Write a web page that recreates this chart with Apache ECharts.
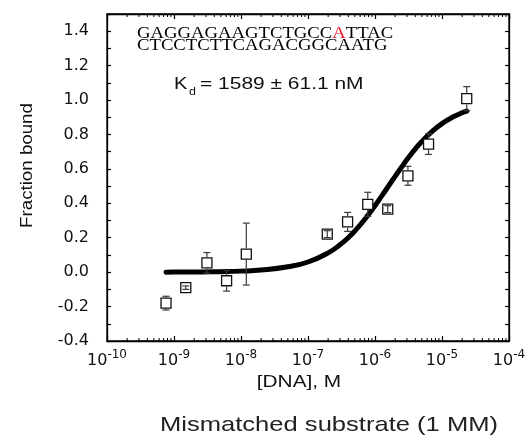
<!DOCTYPE html>
<html><head><meta charset="utf-8">
<script src="https://cdn.jsdelivr.net/npm/echarts@6/dist/echarts.min.js"></script>
<style>html,body{margin:0;padding:0;background:#fff}#c{width:529px;height:447px}</style>
</head><body><div id="c"></div>
<script>
// Measured data (concentration in M, fraction bound, error)
const concM = [7.6e-10, 1.5e-9, 3.1e-9, 6.1e-9, 1.2e-8, 1.94e-7, 3.9e-7, 7.8e-7, 1.55e-6, 3.1e-6, 6.3e-6, 2.34e-5];
const fractionBound = [-0.18, -0.09, 0.054, -0.05, 0.105, 0.221, 0.292, 0.394, 0.366, 0.56, 0.744, 1.008];
const errorBar = [0.04, 0.01, 0.06, 0.06, 0.18, 0.02, 0.055, 0.07, 0.02, 0.055, 0.06, 0.07];
// Fit curve
const fitConcM = [7.6e-10, 1e-9, 2e-9, 5e-9, 1e-8, 2e-8, 5e-8, 1e-7, 2e-7, 3e-7, 4e-7, 5e-7, 7e-7, 1e-6, 1.3e-6, 1.6e-6, 2e-6, 2.5e-6, 3e-6, 4e-6, 5e-6, 7e-6, 1e-5, 1.5e-5, 2e-5, 2.34e-5];
const fitFraction = [0.000, 0.001, 0.001, 0.003, 0.006, 0.012, 0.031, 0.059, 0.112, 0.159, 0.201, 0.239, 0.306, 0.386, 0.450, 0.502, 0.557, 0.611, 0.654, 0.716, 0.759, 0.815, 0.863, 0.904, 0.926, 0.936];
// Tick labels
const xTickExponents = ['-10', '-9', '-8', '-7', '-6', '-5', '-4'];
const yTickLabels = ['-0.4', '-0.2', '0.0', '0.2', '0.4', '0.6', '0.8', '1.0', '1.2', '1.4'];
const minorMultipliers = [2, 3, 4, 5, 6, 7, 8, 9];
const decadeStarts = [1e-10, 1e-9, 1e-8, 1e-7, 1e-6, 1e-5];

const Y_MIN = -0.4, Y_MAX = 1.5;
const tickFont = 'DejaVu Sans';

const minorData = [];
decadeStarts.forEach(d => minorMultipliers.forEach(m => minorData.push([m * d, Y_MIN])));

const chart = echarts.init(document.getElementById('c'), null, {renderer: 'canvas'});
const axisLineStyle = {color: '#000', width: 1.3};
chart.setOption({
  animation: false,
  backgroundColor: '#fff',
  grid: {left: 107, right: 20, top: 14, bottom: 106, containLabel: false,
         show: true, borderColor: '#000', borderWidth: 1.3, backgroundColor: 'transparent'},
  xAxis: [{
    type: 'log', logBase: 10, min: 1e-10, max: 1e-4, interval: 1,
    axisLine: {show: true, onZero: false, lineStyle: axisLineStyle},
    axisTick: {show: true, inside: true, length: 5, lineStyle: {color: '#000', width: 1.2}},
    splitLine: {show: false},
    axisLabel: {
      margin: 8,
      formatter: function (v) {
        const e = Math.round(Math.log10(v));
        const lab = xTickExponents[e + 10];
        return '{b|10}{s|' + lab + '}';
      },
      rich: {
        b: {fontFamily: tickFont, fontSize: 16, color: '#111', lineHeight: 20, verticalAlign: 'bottom'},
        s: {fontFamily: tickFont, fontSize: 12, color: '#111', lineHeight: 12, verticalAlign: 'top'}
      }
    }
  }, {
    type: 'log', logBase: 10, min: 1e-10, max: 1e-4, interval: 1, position: 'top',
    axisLine: {show: true, onZero: false, lineStyle: axisLineStyle},
    axisTick: {show: true, inside: true, length: 5, lineStyle: {color: '#000', width: 1.2}},
    axisLabel: {show: false}, splitLine: {show: false}
  }],
  yAxis: [{
    type: 'value', min: Y_MIN, max: Y_MAX, interval: 0.1,
    axisLine: {show: true, onZero: false, lineStyle: axisLineStyle},
    axisTick: {show: true, inside: true, length: 4, lineStyle: {color: '#000', width: 1.2}},
    splitLine: {show: false},
    axisLabel: {
      margin: 18, fontFamily: tickFont, fontSize: 16, color: '#111',
      formatter: function (v) {
        const k = Math.round(v * 10);
        if (k % 2 !== 0 || k > 14) return '';
        return yTickLabels[(k + 4) / 2];
      }
    }
  }, {
    type: 'value', min: Y_MIN, max: Y_MAX, interval: 0.1, position: 'right',
    axisLine: {show: true, onZero: false, lineStyle: axisLineStyle},
    axisTick: {show: true, inside: true, length: 4, lineStyle: {color: '#000', width: 1.2}},
    axisLabel: {show: false}, splitLine: {show: false}
  }],
  series: [
    {
      type: 'custom', name: 'minor', z: 1, silent: true, clip: false,
      data: minorData,
      encode: {x: 0, y: 1},
      renderItem: function (params, api) {
        const b = api.coord([api.value(0), Y_MIN]);
        const t = api.coord([api.value(0), Y_MAX]);
        const st = {stroke: '#000', lineWidth: 1};
        return {type: 'group', children: [
          {type: 'line', shape: {x1: b[0], y1: b[1], x2: b[0], y2: b[1] - 3}, style: st},
          {type: 'line', shape: {x1: t[0], y1: t[1], x2: t[0], y2: t[1] + 3}, style: st}
        ]};
      }
    },
    {
      type: 'line', name: 'fit', z: 2, showSymbol: false, smooth: true, silent: true,
      data: fitConcM.map((x, i) => [x, fitFraction[i]]),
      lineStyle: {color: '#000', width: 5, cap: 'round', join: 'round'}
    },
    {
      type: 'scatter', name: 'data', z: 3, symbol: 'rect', symbolSize: 10,
      data: concM.map((x, i) => [x, fractionBound[i]]),
      itemStyle: {color: '#fff', borderColor: '#111', borderWidth: 1.3, opacity: 1}
    },
    {
      type: 'custom', name: 'err', z: 4, silent: true,
      data: concM.map((x, i) => [x, fractionBound[i], errorBar[i]]),
      encode: {x: 0, y: 1},
      renderItem: function (params, api) {
        const x = api.value(0), y = api.value(1), e = api.value(2);
        const c = api.coord([x, y]);
        const t = api.coord([x, y + e]);
        const b = api.coord([x, y - e]);
        const half = 5.5, cw = 3.5;
        const st = {stroke: '#3a3a3a', lineWidth: 1.2};
        const ch = [];
        if (c[1] - t[1] > half) {
          ch.push({type: 'line', shape: {x1: c[0], y1: c[1] - half, x2: c[0], y2: t[1]}, style: st});
          ch.push({type: 'line', shape: {x1: c[0], y1: c[1] + half, x2: c[0], y2: b[1]}, style: st});
        } else {
          ch.push({type: 'line', shape: {x1: c[0], y1: t[1], x2: c[0], y2: b[1]}, style: st});
        }
        ch.push({type: 'line', shape: {x1: c[0] - cw, y1: t[1], x2: c[0] + cw, y2: t[1]}, style: st});
        ch.push({type: 'line', shape: {x1: c[0] - cw, y1: b[1], x2: c[0] + cw, y2: b[1]}, style: st});
        return {type: 'group', children: ch};
      }
    }
  ],
  graphic: [
    {type: 'text', x: 137, y: 34, scaleX: 1.1, z: 10,
     style: {text: '{n|GAGGAGAAGTCTGCC}{r|A}{n|TTAC}', verticalAlign: 'middle', align: 'left',
       rich: {n: {fontFamily: 'Liberation Serif', fontSize: 17, fill: '#000'}, r: {fontFamily: 'Liberation Serif', fontSize: 17, fill: '#ee1c25'}}}},
    {type: 'text', x: 137, y: 46, scaleX: 1.1, z: 10,
     style: {text: 'CTCCTCTTCAGACGGCAATG', verticalAlign: 'middle', align: 'left',
       fontFamily: 'Liberation Serif', fontSize: 17, fill: '#000'}},
    {type: 'text', x: 174, y: 85, scaleX: 1.25, z: 10,
     style: {text: 'K', verticalAlign: 'middle', align: 'left', fontFamily: 'Liberation Sans', fontSize: 16, fill: '#111'}},
    {type: 'text', x: 189, y: 92.5, scaleX: 1.25, z: 10,
     style: {text: 'd', verticalAlign: 'middle', align: 'left', fontFamily: 'Liberation Sans', fontSize: 10, fill: '#111'}},
    {type: 'text', x: 200, y: 85, scaleX: 1.31, z: 10,
     style: {text: '= 1589 ± 61.1 nM', verticalAlign: 'middle', align: 'left', fontFamily: 'Liberation Sans', fontSize: 16, fill: '#111'}},
    {type: 'text', x: 27.5, y: 165.5, rotation: Math.PI / 2, scaleX: 1.17, z: 10,
     style: {text: 'Fraction bound', verticalAlign: 'middle', align: 'center', fontFamily: 'Liberation Sans', fontSize: 16, fill: '#111'}},
    {type: 'text', x: 299, y: 382.5, scaleX: 1.3, z: 10,
     style: {text: '[DNA], M', verticalAlign: 'middle', align: 'center', fontFamily: 'Liberation Sans', fontSize: 16, fill: '#111'}},
    {type: 'text', x: 329, y: 425.5, scaleX: 1.217, z: 10,
     style: {text: 'Mismatched substrate (1 MM)', verticalAlign: 'middle', align: 'center', fontFamily: 'Liberation Sans', fontSize: 21, fill: '#222'}}
  ]
});
</script></body></html>
